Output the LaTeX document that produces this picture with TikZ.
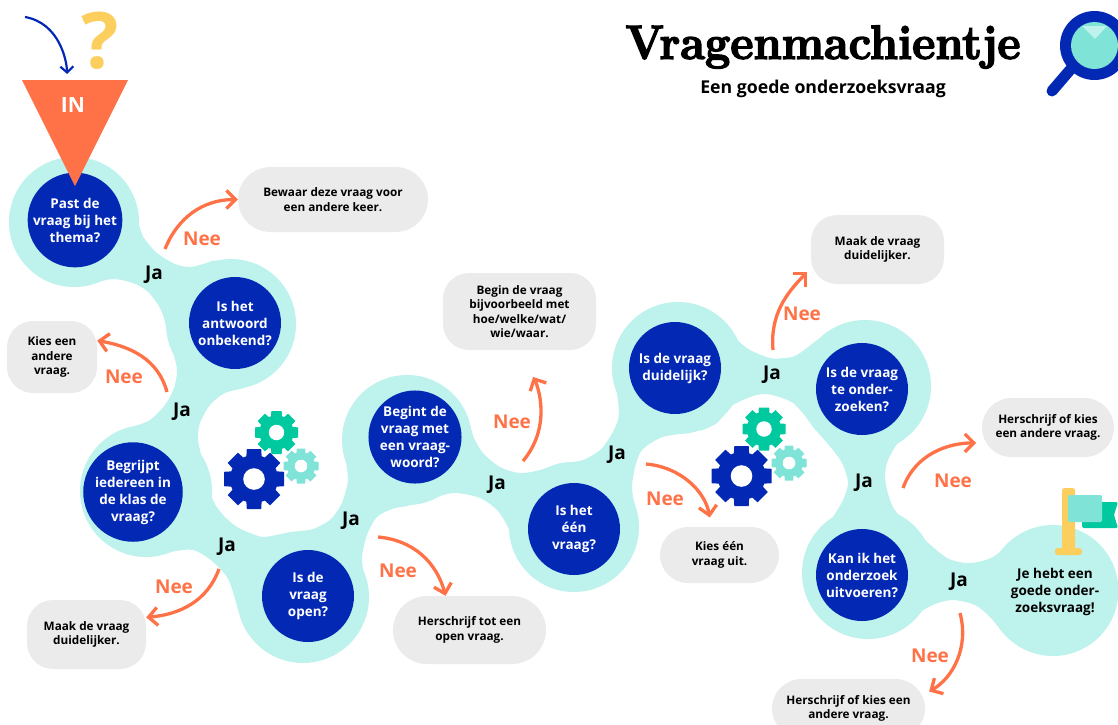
\documentclass[tikz,border=0pt]{standalone}
\usepackage{fontspec}
\usetikzlibrary{arrows.meta,shapes.misc,positioning,backgrounds}
\newfontfamily\werkfont{Open Sans}
\newfontfamily\titelfont[BoldFeatures={FakeBold=3,FakeStretch=.94}]{Latin Modern Roman}
\definecolor{donker}{HTML}{0328B4}
\definecolor{blob}{HTML}{BEF2EC}
\definecolor{oranje}{HTML}{FF7247}
\definecolor{grijs}{HTML}{EBEBEB}
\definecolor{geel}{HTML}{FCCE5E}
\definecolor{groen}{HTML}{00C9A0}
\definecolor{licht}{HTML}{7FE3D8}

\begin{document}
\begin{tikzpicture}[x=1pt,y=-1pt]

	\tikzstyle{vraag}=[circle,fill=donker,text=white,on grid,
		minimum size=92pt,inner sep=0pt,align=center,
		font=\werkfont\bfseries\fontsize{13.5}{17}\selectfont]
	\tikzstyle{eind}=[vraag,fill=none,text=black]
	\tikzstyle{antwoord}=[rounded rectangle,fill=grijs,inner sep=0pt,align=center,
		font=\werkfont\bfseries\fontsize{11.75}{14.5}\selectfont]
	\tikzstyle{hoekig}=[antwoord,rectangle,rounded corners=26pt]
	\tikzstyle{ja}=[yshift=-2pt,font=\werkfont\bfseries\fontsize{19}{21}\selectfont]
	\tikzstyle{nee}=[ja,text=oranje]
	\tikzstyle{arrow}=[-{Straight Barb[length=9pt,width=18pt]},line width=3.3pt,oranje]

	\useasboundingbox (0,0) rectangle (1118,724);

	\node[vraag](past) at (75,220){Past de\\vraag bij het\\thema?};
	\node[vraag,below right=103pt and 160pt of past](onbekend){Is het\\antwoord\\onbekend?};
	\node[vraag,below left=169pt and 102pt of onbekend](begrijpt){Begrijpt\\iedereen in\\de klas de\\vraag?};
	\node[vraag,below right=104pt and 175pt of begrijpt](open){Is de\\vraag\\open?};
	\node[vraag,above right=159pt and 107pt of open](begint){Begint de\\vraag met\\een vraag-\\woord?};
	\node[vraag,below right=92pt and 159pt of begint](een){Is het\\één\\vraag?};
	\node[vraag,above right=161pt and 101pt of een](duidelijk){Is de vraag\\duidelijk?};
	\node[vraag,below right=21pt and 187pt of duidelijk](zoeken){Is de vraag\\te onder-\\zoeken?};
	\node[vraag,below=186pt of zoeken](uitvoeren){Kan ik het\\onderzoek\\uitvoeren?};
	\node[eind,below right=17pt and 193pt of uitvoeren](einde){Je hebt een\\goede onder-\\zoeksvraag!};

	\begin{pgfonlayer}{background}
		\foreach \bx/\by/\br in {74/222/65,231/324/65,146/491/66,303/597/66,407/440/65,574/527/65,678/368/66,865/386/66,868/573/66,1053/590.5/65.5}
			\fill[blob] (\bx,\by) circle (\br pt);
		\fill[blob] plot[smooth] coordinates {(139,225) (144,238) (157,253) (175,264) (190,267) (203,264) (215,260)}
			-- plot[smooth] coordinates {(166,327) (163,315) (157,303) (147,291) (133,283) (113,279) (95,283) (85,286)} -- cycle;
		\fill[blob] plot[smooth] coordinates {(245,388) (225,393) (210,405) (200,423) (198,440) (203,462)}
			-- plot[smooth] coordinates {(135,426) (150,420) (165,405) (174,388) (177,370) (173,352) (168,337)} -- cycle;
		\fill[blob] plot[smooth] coordinates {(204,465) (213,500) (224,516) (237,527) (250,533) (263,537) (276,535) (290,532)}
			-- plot[smooth] coordinates {(238,610) (233,592) (227,577) (212,561) (193,550) (170,552) (150,557)} -- cycle;
		\fill[blob] plot[smooth] coordinates {(300,531) (313,529) (330,520) (341,505) (346,490) (348,478) (345,455)}
			-- plot[smooth] coordinates {(430,500) (420,503) (407,506) (392,509) (377,517) (367,535) (362,557) (364,575) (368,590)} -- cycle;
		\fill[blob] plot[smooth] coordinates {(470,425) (474,438) (483,453) (500,467) (520,473) (540,470) (560,463)}
			-- plot[smooth] coordinates {(510,537) (508,527) (497,510) (480,498) (457,493) (443,495) (430,500)} -- cycle;
		\fill[blob] plot[smooth] coordinates {(560,463) (583,460) (603,447) (618,420) (617,393) (612,375)}
			-- plot[smooth] coordinates {(680,434) (660,438) (640,453) (632,487) (638,520) (637,540)} -- cycle;
		\fill[blob] plot[smooth] coordinates {(737,340) (750,350) (770,358) (785,358) (797,355) (817,340)}
			-- plot[smooth] coordinates {(813,427) (793,403) (763,394) (733,405) (717,423) (700,431)} -- cycle;
		\fill[blob] plot[smooth] coordinates {(922,418) (900,440) (888,460) (885,477) (889,497) (897,513) (923,538)}
			-- plot[smooth] coordinates {(833,517) (843,500) (848,483) (843,465) (833,450) (813,427)} -- cycle;
		\fill[blob] plot[smooth] coordinates {(923,538) (947,558) (970,563) (993,557) (1013,540)}
			-- plot[smooth] coordinates {(1003,633) (990,617) (975,605) (953,600) (935,604) (920,612)} -- cycle;
	\end{pgfonlayer}

	% trechter
	\fill[oranje] (22,80) -- (128,80) -- (75,186) -- cycle;
	\node[font=\werkfont\bfseries\fontsize{21}{24}\selectfont,text=white](in) at (73,105){IN};
	\node[font=\werkfont\bfseries\fontsize{78}{80}\selectfont,text=geel](vraagteken) at (100,41){?};
	\coordinate (instart) at (25,17);
	\draw[-{Straight Barb[length=6pt,width=13pt]},line width=2.2pt,donker,shorten >=20pt] (instart) to[out=-10,in=92] (in.115);

	\node[font=\titelfont\bfseries\fontsize{48}{50}\selectfont](titel) at (823,47){Vragenmachientje};
	\node[font=\werkfont\bfseries\fontsize{17.7}{20}\selectfont](ondertitel) at (823,89){Een goede onderzoeksvraag};

	% loep
	\draw[donker,line width=11pt,line cap=round] (1070,70) -- (1052,91);
	\fill[donker] (1094.5,45.5) circle (34.5pt);
	\fill[licht] (1094.5,45.5) circle (23.5pt);
	\begin{scope}
		\clip (1094.5,45.5) circle (23.5pt);
		\fill[blob] (1082,26) -- (1107,26) -- (1095,39) -- cycle;
	\end{scope}

	% tandwielen
	\foreach \gx/\gy/\gr/\gk in {301/466/17.5/licht,276.5/432.5/21.5/groen,254/479/30/donker,789/463/17.5/licht,764/429/21.5/groen,741.5/476/30/donker}{
		\foreach \hoek in {0,45,...,315}
			\fill[\gk,shift={(\gx,\gy)},rotate=\hoek] ({-.3*\gr},0) -- ({-.24*\gr},\gr) -- ({.24*\gr},\gr) -- ({.3*\gr},0) -- cycle;
		\fill[\gk] (\gx,\gy) circle ({.8*\gr*1pt});
		\fill[white] (\gx,\gy) circle ({.36*\gr*1pt});
	}

	% vlag
	\fill[groen,rounded corners=1.5pt] (1082,502) -- (1118,502) -- (1114,515) -- (1118,528) -- (1082,528) -- cycle;
	\fill[geel,rounded corners=2.5pt] (1062,488) rectangle (1075,552);
	\fill[geel,rounded corners=3pt] (1055,548) rectangle (1082,555);
	\fill[licht,rounded corners=1.5pt] (1068,495) rectangle (1102,522);

	\node[antwoord,minimum width=190pt,minimum height=65pt](bewaar) at (333,199.5){Bewaar deze vraag voor\\een andere keer.};
	\node[hoekig,minimum width=90pt,minimum height=72pt](kies) at (52,357){Kies een\\andere\\vraag.};
	\node[hoekig,minimum width=119pt,minimum height=69pt](maak) at (86.5,634.5){Maak de vraag\\duidelijker.};
	\node[antwoord,minimum width=153pt,minimum height=68pt](tot) at (469.5,630){Herschrijf tot een\\open vraag.};
	\node[hoekig,minimum width=153pt,minimum height=77pt](begin) at (519.5,311.5){Begin de vraag\\bijvoorbeeld met\\hoe/welke/wat/\\wie/waar.};
	\node[antwoord,minimum width=119pt,minimum height=56pt](uit) at (719.5,555){Kies één\\vraag uit.};
	\node[hoekig,minimum width=133pt,minimum height=69pt](maakb) at (877.5,249.5){Maak de vraag\\duidelijker.};
	\node[antwoord,minimum width=132pt,minimum height=59pt](kiesb) at (1048,427.5){Herschrijf of kies\\een andere vraag.};
	\node[antwoord,minimum width=153pt,minimum height=59pt](kiesc) at (848.5,708.5){Herschrijf of kies een\\andere vraag.};

	\foreach \jx/\jy in {154/273,182/410,227/545,351/519,497/483,617/453,772/373,864/481,959/580}
		\node[ja] at (\jx,\jy){Ja};
	\foreach \nx/\ny in {202/237,124/375,174/585,398/569,512/420,802/312,665/497,953/479,930/654}
		\node[nee] at (\nx,\ny){Nee};

	\coordinate (nee1) at (165,249);
	\coordinate (nee2) at (167,392);
	\coordinate (nee3) at (219,569);
	\coordinate (nee4) at (378,537);
	\coordinate (nee5) at (523,461);
	\coordinate (nee6) at (773,350);
	\coordinate (nee7) at (646,464);
	\coordinate (nee8) at (903,488);
	\coordinate (nee9) at (960,613);

	\draw[arrow] (nee1) to[out=68,in=180] (bewaar.west);
	\draw[arrow] (nee2) to[out=105,in=-10] (kies.20);
	\draw[arrow] (nee3) to[out=-110,in=5] (maak.16);
	\draw[arrow] (nee4) to[out=-5,in=105] (tot.125);
	\draw[arrow,shorten >=30pt] (nee5) to[out=50,in=-63] (begin.south);
	\draw[arrow,shorten >=5pt] (nee6) to[out=95,in=-135] (maakb.196);
	\draw[arrow,shorten >=9.5pt] (nee7) to[out=-5,in=100] (uit.106);
	\draw[arrow,shorten >=10pt] (nee8) to[out=70,in=180] (kiesb.194);
	\draw[arrow,shorten >=8pt] (nee9) to[out=-75,in=30] (kiesc.10);

\end{tikzpicture}
\end{document}
